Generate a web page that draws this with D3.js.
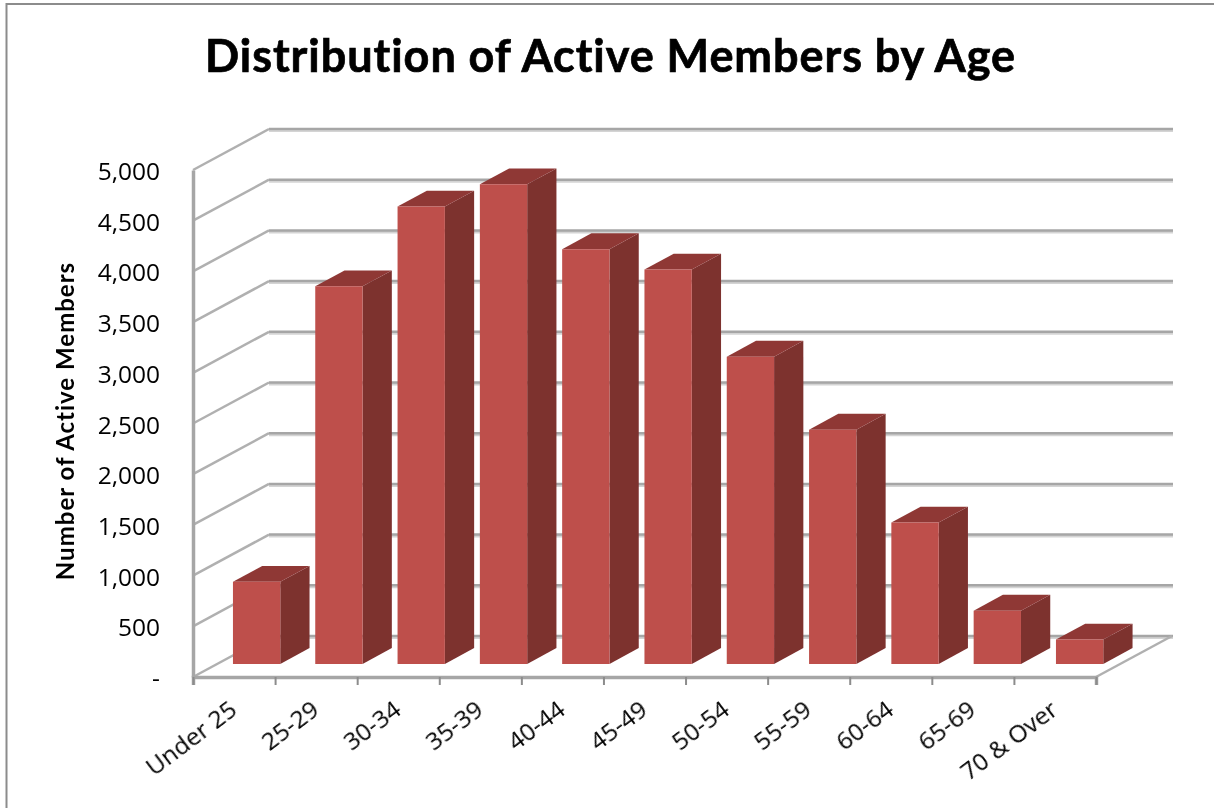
<!DOCTYPE html>
<html>
<head>
<meta charset="utf-8">
<script src="https://cdn.jsdelivr.net/npm/d3@7"></script>
<style>
  html, body { margin: 0; padding: 0; background: #fff; }
  svg { display: block; }
  .tick-label { font-family: "Open Sans", sans-serif; font-size: 24.5px; fill: #000; }
</style>
</head>
<body>
<svg width="1214" height="808"></svg>
<script>
const categories = ['Under 25', '25-29', '30-34', '35-39', '40-44', '45-49', '50-54', '55-59', '60-64', '65-69', '70 & Over'];
const members = [810, 3725, 4510, 4730, 4090, 3890, 3030, 2310, 1395, 525, 240];
const yTicks = [0, 500, 1000, 1500, 2000, 2500, 3000, 3500, 4000, 4500, 5000];

const svg = d3.select('svg');
const gridColor = '#a6a6a6';

const xScale = d3.scaleBand().domain(categories).range([193, 1096]);
// the bars run a touch wider than the axis in the reference
const barScale = d3.scaleBand().domain(categories).range([193, 1098.3]);
const yScale = d3.scaleLinear().domain([0, 5000]).range([677, 170]);

// oblique projection: z runs 0 (front of floor) to 1 (back wall)
const depth = { x: 76, y: -41 };
const project = (x, value, z) => [x + depth.x * z, yScale(value) + depth.y * z];
const polygon = (pts) => pts.map(p => p.join(',')).join(' ');

const defs = svg.append('defs');
defs.append('filter').attr('id', 'soft')
  .append('feGaussianBlur').attr('stdDeviation', 0.7);
defs.append('filter').attr('id', 'softText')
  .append('feGaussianBlur').attr('stdDeviation', 0.35);

// chart frame, only the left and top edges are in the crop
svg.append('path')
  .attr('d', 'M6.5,808V4H1214')
  .attr('fill', 'none')
  .attr('stroke', '#8c8c8c')
  .attr('stroke-width', 2);

const walls = svg.append('g').attr('filter', 'url(#soft)');
const xLeft = xScale.range()[0];
const xRight = xScale.range()[1];

// back wall gridlines and side wall diagonals
yTicks.forEach((d) => {
  const a = project(xLeft, d, 1);
  const b = project(xRight, d, 1);
  walls.append('line')
    .attr('x1', a[0]).attr('y1', a[1] + 1.5).attr('x2', b[0] + 1).attr('y2', b[1] + 1.5)
    .attr('stroke', '#d4d4d4').attr('stroke-width', 3);
  walls.append('line')
    .attr('x1', a[0]).attr('y1', a[1]).attr('x2', b[0] + 1).attr('y2', b[1])
    .attr('stroke', gridColor).attr('stroke-width', 2.5);
  const f = project(xLeft, d, 0);
  walls.append('line')
    .attr('x1', f[0]).attr('y1', f[1]).attr('x2', a[0]).attr('y2', a[1])
    .attr('stroke', '#b0b0b0').attr('stroke-width', 2.5);
});

// floor right edge
const fr = project(xRight, 0, 0);
const br = project(xRight, 0, 1);
walls.append('line')
  .attr('x1', fr[0]).attr('y1', fr[1]).attr('x2', br[0]).attr('y2', br[1])
  .attr('stroke', '#b0b0b0').attr('stroke-width', 2.5);

// y axis
const yAxis = d3.axisLeft(yScale)
  .tickValues(yTicks)
  .tickSize(0)
  .tickPadding(33)
  .tickFormat(d => d === 0 ? '-  ' : d3.format(',')(d));
svg.append('g')
  .attr('transform', `translate(${xLeft},0)`)
  .call(yAxis)
  .call(g => g.select('.domain').attr('stroke', gridColor).attr('stroke-width', 3.5))
  .call(g => g.selectAll('text')
    .attr('class', 'tick-label')
    .attr('filter', 'url(#softText)')
    .attr('dy', '0.39em')
    .style('font-size', '24.5px')
    .style('font-family', '"Open Sans", sans-serif'));

// x axis, ticks sit between the categories
const xAxis = d3.axisBottom(d3.scaleLinear().domain([0, categories.length]).range([xLeft, xRight]))
  .ticks(categories.length)
  .tickSize(8)
  .tickFormat('');
svg.append('g')
  .attr('transform', `translate(0,${yScale(0)})`)
  .call(xAxis)
  .call(g => g.select('.domain').attr('stroke', gridColor).attr('stroke-width', 3.5))
  .call(g => g.selectAll('.tick line').attr('stroke', '#8c8c8c').attr('stroke-width', 2));

// bars
const barZ0 = 0.32;
const barZ1 = 0.705;
const bars = svg.append('g').selectAll('g.bar')
  .data(categories.map((c, i) => ({ c, v: members[i] })))
  .join('g')
  .attr('class', 'bar')
  .attr('filter', 'url(#soft)');

const barX0 = d => barScale(d.c) + barScale.step() * 0.19;
const barX1 = d => barX0(d) + barScale.step() * 0.575;

bars.append('polygon')
  .attr('fill', '#7d302f')
  .attr('points', d => polygon([
    project(barX1(d), 0, barZ0), project(barX1(d), 0, barZ1),
    project(barX1(d), d.v, barZ1), project(barX1(d), d.v, barZ0)
  ]));
bars.append('polygon')
  .attr('fill', '#8f3836')
  .attr('points', d => polygon([
    project(barX0(d), d.v, barZ0), project(barX1(d), d.v, barZ0),
    project(barX1(d), d.v, barZ1), project(barX0(d), d.v, barZ1)
  ]));
bars.append('polygon')
  .attr('fill', '#be4f4b')
  .attr('points', d => polygon([
    project(barX0(d), 0, barZ0), project(barX1(d), 0, barZ0),
    project(barX1(d), d.v, barZ0), project(barX0(d), d.v, barZ0)
  ]));

// category labels
svg.append('g').selectAll('text')
  .data(categories)
  .join('text')
  .attr('class', 'tick-label')
  .attr('filter', 'url(#softText)')
  .attr('text-anchor', 'end')
  .attr('transform', d => `translate(${xScale(d) + xScale.bandwidth() / 2 + 4.5},${713}) rotate(-37)`)
  .text(d => d);

// titles
svg.append('text')
  .attr('x', 610.5)
  .attr('y', 72)
  .attr('text-anchor', 'middle')
  .attr('font-family', 'Lato, sans-serif')
  .attr('font-weight', 700)
  .attr('font-size', 45)
  .attr('letter-spacing', 0.95)
  .attr('stroke', '#000')
  .attr('stroke-width', 0.7)
  .attr('filter', 'url(#softText)')
  .text('Distribution of Active Members by Age');

svg.append('text')
  .attr('transform', 'translate(74,421) rotate(-90)')
  .attr('text-anchor', 'middle')
  .attr('font-family', 'Lato, sans-serif')
  .attr('font-weight', 700)
  .attr('font-size', 24)
  .attr('letter-spacing', 1)
  .attr('filter', 'url(#softText)')
  .text('Number of Active Members');
</script>
</body>
</html>
